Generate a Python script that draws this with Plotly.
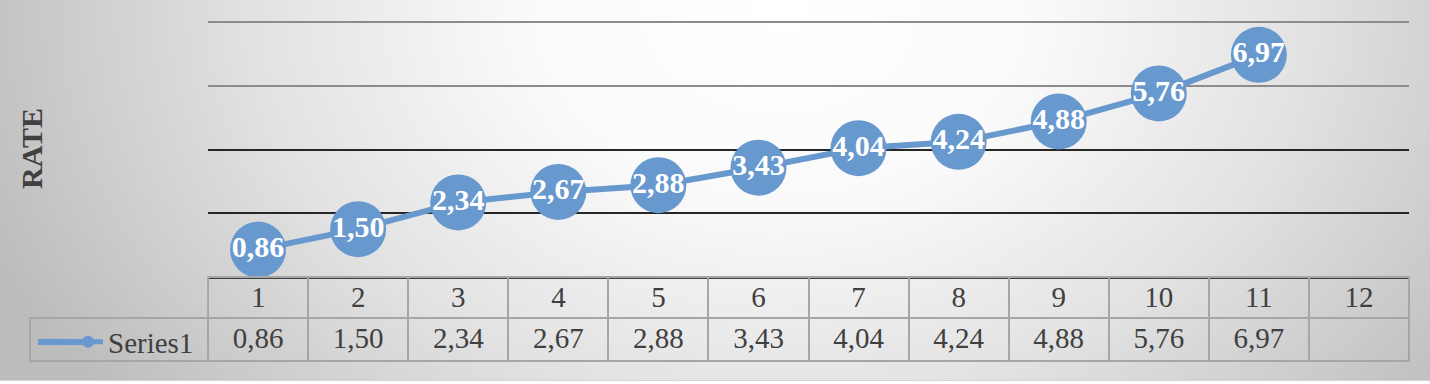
import base64
import plotly.graph_objects as go

# ---- data ----
categories = [1, 2, 3, 4, 5, 6, 7, 8, 9, 10, 11, 12]
values = [0.86, 1.50, 2.34, 2.67, 2.88, 3.43, 4.04, 4.24, 4.88, 5.76, 6.97, None]
series_name = "Series1"
axis_title = "RATE"
grid_dark = [2, 4]
grid_light = [6, 8]

def fmt(v):
    return "" if v is None else f"{v:.2f}".replace(".", ",")

labels = [fmt(v) for v in values]

W, H = 1430, 384
ML, MR, MT, MB = 30, 21, 0, 21
PW, PH = W - ML - MR, H - MT - MB  # paper size in px
X0 = 208  # plot-area left edge px
AXIS_Y = 277  # x-axis px
TOP8_Y = 22
scale = (AXIS_Y - TOP8_Y) / 8.0
ymax = 8 + TOP8_Y / scale

def px_x(px):
    return (px - ML) / PW

def px_y(py):
    return (H - MB - py) / PH

BLUE = "#6899ce"
TXT = "#404040"
FONT = "Times New Roman, Liberation Serif, serif"

# background gradient as svg
svg = f"""<svg xmlns='http://www.w3.org/2000/svg' width='{W}' height='380' viewBox='0 0 {W} 380' preserveAspectRatio='none'>
<defs><radialGradient id='g' gradientUnits='userSpaceOnUse' cx='780' cy='10' r='850' gradientTransform='translate(780 10) scale(1 0.75) translate(-780 -10)'>
<stop offset='0' stop-color='#ffffff'/><stop offset='0.3' stop-color='#fafafa'/><stop offset='0.62' stop-color='#e2e2e2'/><stop offset='1' stop-color='#bcbcbc'/></radialGradient></defs>
<rect width='{W}' height='380' fill='url(#g)'/></svg>"""
src = "data:image/svg+xml;base64," + base64.b64encode(svg.encode()).decode()

fig = go.Figure()

fig.add_trace(go.Scatter(
    x=categories, y=values, name=series_name,
    mode="lines+markers+text",
    line=dict(color=BLUE, width=6),
    marker=dict(size=56, color=BLUE, line=dict(width=0)),
    text=[l if l else None for l in labels],
    textposition="middle center",
    textfont=dict(family=FONT, size=30, color="white", weight="bold"),
    cliponaxis=False,
    hoverinfo="skip",
))

# data table below the axis
fig.add_trace(go.Table(
    domain=dict(x=[0, 1], y=[0, px_y(AXIS_Y)]),
    columnwidth=[X0 - ML] + [100] * len(categories),
    header=dict(
        values=[""] + [str(c) for c in categories],
        fill=dict(color="rgba(0,0,0,0)"),
        line=dict(color=["rgba(0,0,0,0)"] + ["#a6a6a6"] * len(categories), width=2),
        font=dict(family=FONT, size=29, color=TXT),
        align="center", height=41,
    ),
    cells=dict(
        values=[[""]] + [[l] for l in labels],
        fill=dict(color="rgba(0,0,0,0)"),
        line=dict(color="#a6a6a6", width=2),
        font=dict(family=FONT, size=29, color=TXT),
        align="center", height=43,
    ),
))

fig.update_layout(
    width=W, height=H,
    font=dict(family=FONT, color=TXT),
    margin=dict(l=ML, r=MR, t=MT, b=MB, pad=0),
    paper_bgcolor="white",
    plot_bgcolor="rgba(0,0,0,0)",
    images=[dict(source=src, xref="paper", yref="paper",
                 x=px_x(0), y=px_y(0), sizex=W / PW, sizey=380 / PH,
                 xanchor="left", yanchor="top", sizing="stretch", layer="below")],
    xaxis=dict(domain=[px_x(X0), 1], range=[0.5, 12.5], showticklabels=False,
               showgrid=False, zeroline=False, showline=True,
               linecolor="#404040", linewidth=2, ticks=""),
    yaxis=dict(domain=[px_y(AXIS_Y), 1], range=[0, ymax], showticklabels=False,
               zeroline=False, tickmode="array", tickvals=grid_dark,
               gridcolor="#262626", gridwidth=2, ticks="",
               minor=dict(tickmode="array", tickvals=grid_light, showgrid=True,
                          gridcolor="#8c8c8c", gridwidth=2, ticks="")),
    showlegend=True,
    legend=dict(x=px_x(68), y=px_y(342), xanchor="left", yanchor="middle",
                bgcolor="rgba(0,0,0,0)", itemsizing="constant",
                font=dict(family=FONT, size=29, color=TXT)),
    annotations=[dict(text=f"<b>{axis_title}</b>", textangle=-90,
                      xref="paper", yref="paper", x=px_x(31), y=px_y(149),
                      xanchor="center", yanchor="middle",
                      showarrow=False, font=dict(family=FONT, size=30, color=TXT))],
    shapes=[
        # bottom edge of chart area
        dict(type="line", xref="paper", yref="paper",
             x0=px_x(0), x1=px_x(W), y0=px_y(380.5), y1=px_y(380.5),
             line=dict(color="#d6d6d6", width=1)),
        # longer legend key line (decoration)
        dict(type="line", xref="paper", yref="paper", layer="below",
             x0=px_x(38), x1=px_x(90), y0=px_y(342), y1=px_y(342),
             line=dict(color=BLUE, width=6)),
    ],
)

fig.write_html("out.html", config={"displayModeBar": False},
               post_script="document.body.style.margin='0';document.body.style.padding='0';")
